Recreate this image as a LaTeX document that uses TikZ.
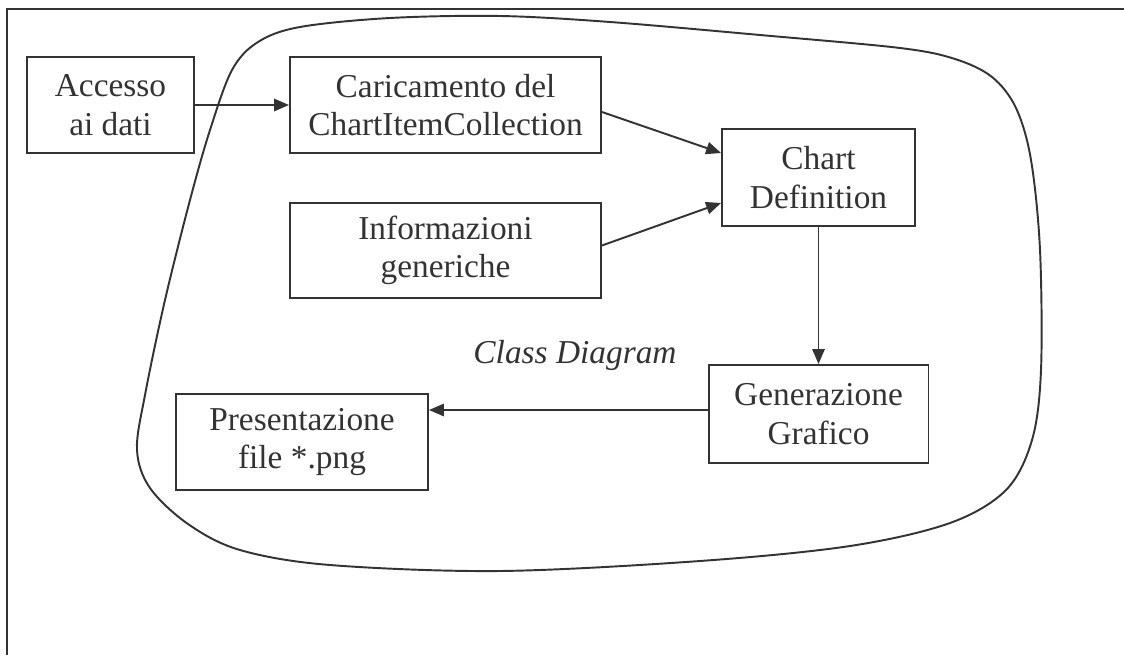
\documentclass[tikz,border=0pt]{standalone}
\usepackage{fontspec}
\setmainfont{Liberation Serif}
\usetikzlibrary{positioning,arrows.meta,calc}
\tikzstyle{box} = [rectangle, draw, line width=1.1pt, %
   text centered, align=center, inner sep=0pt]
\tikzstyle{line} = [draw, line width=1.1pt, -{Triangle[length=8.5pt,width=7pt]}]
\tikzstyle{frame} = [draw, line width=1.4pt]

\begin{document}
\begin{tikzpicture}[x=0.02cm, y=-0.02cm, font=\fontsize{19}{22}\selectfont, color=black!80]
   \useasboundingbox (0,0) rectangle (1124,655);

   % Outer frame
   \coordinate (corner) at (7,9);
   \coordinate (topend) at (1124,9);
   \coordinate (leftend) at (7,655);
   \path [frame] (topend) -- (corner) -- (leftend);

   % Class diagram contour
   \draw [line width=1.1pt] plot [smooth cycle, tension=0.55] coordinates {%
      (300,27) (390,18) (500,16) (610,22) (760,35) (900,48) (955,59)
      (992,77) (1016,108) (1031,160) (1040,250) (1041,370) (1032,440)
      (1006,490) (950,523) (850,546) (700,561) (500,571) (330,565)
      (240,550) (188,524) (150,488) (137,450) (145,395) (165,300)
      (190,200) (210,130) (232,70) (258,42)};

   % Place nodes
   \node[box, minimum width=3.34cm, minimum height=1.92cm] (access) at (110.5,105) {Accesso\\ai dati};
   \node[box, minimum width=6.22cm, minimum height=1.92cm] (loading) at (445.5,105) {Caricamento del\\ChartItemCollection};
   \node[box, minimum width=6.22cm, minimum height=1.9cm] (info) at (445.5,250.5) {Informazioni\\generiche};
   \node[box, minimum width=3.86cm, minimum height=1.94cm] (chartdef) at (818.5,177.5) {Chart\\Definition};
   \node[box, minimum width=4.4cm, minimum height=1.96cm] (generate) at (818.5,414) {Generazione\\Grafico};
   \node[box, minimum width=5.04cm, minimum height=1.92cm] (present) at (302,442) {Presentazione\\file *.png};
   \node[font=\fontsize{19}{22}\selectfont\itshape] (classdiag) at (575,355) {Class Diagram};

   % Draw edges
   \path [line] (access) -- (loading);
   \path [line] ([yshift=-0.14cm]loading.east) -- ([yshift=0.49cm]chartdef.west);
   \path [line] ([yshift=0.1cm]info.east) -- ([yshift=-0.51cm]chartdef.west);
   \path [line] (chartdef) -- (generate);
   \path [line] ([yshift=0.08cm]generate.west) -- ([yshift=0.08cm]generate.west -| present.east);
\end{tikzpicture}
\end{document}
